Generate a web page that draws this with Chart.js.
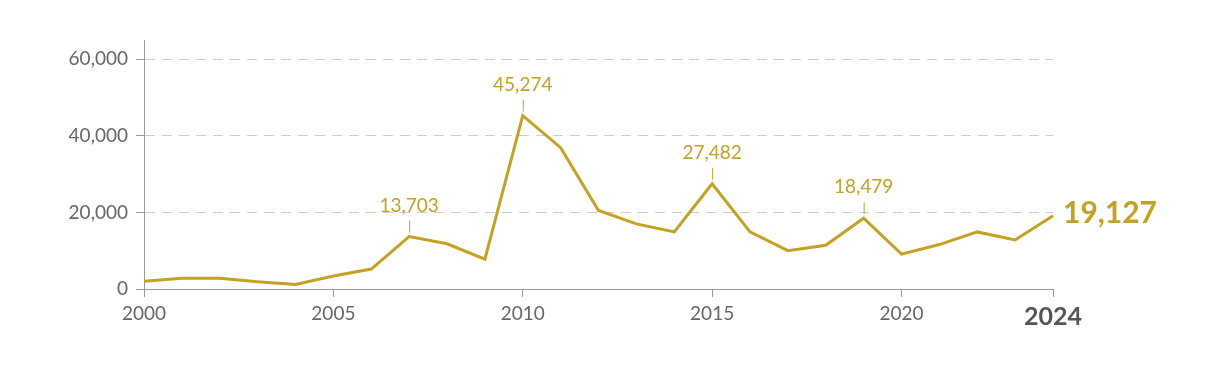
<!DOCTYPE html>
<html>
<head>
<meta charset="utf-8">
<script src="https://cdn.jsdelivr.net/npm/chart.js@4.4.1/dist/chart.umd.min.js"></script>
<style>
  html, body { margin: 0; padding: 0; background: #fff; }
  #wrap { width: 1215px; height: 373px; }
</style>
</head>
<body>
<div id="wrap"><canvas id="chart" width="1215" height="373"></canvas></div>
<script>
var years = ['2000','2001','2002','2003','2004','2005','2006','2007','2008','2009','2010','2011','2012',
             '2013','2014','2015','2016','2017','2018','2019','2020','2021','2022','2023','2024'];
var values = [2000, 2800, 2800, 1900, 1200, 3400, 5200, 13703, 11800, 7800, 45274, 36900, 20500,
              17000, 14900, 27482, 14900, 10000, 11400, 18479, 9100, 11600, 14900, 12800, 19127];
var yTicks = [0, 20000, 40000, 60000];
var calloutYears = ['2007', '2010', '2015', '2019'];

var gold = '#c3a124';
var fmt = function (v) { return v.toLocaleString('en-US'); };
var shownTick = function (i) { return i % 5 === 0 || i === years.length - 1; };

// callouts + end label
var labelsPlugin = {
    id: 'labels',
    afterDatasetsDraw: function (chart) {
        var ctx = chart.ctx;
        var xs = chart.scales.x, ys = chart.scales.y;
        ctx.save();
        calloutYears.forEach(function (yr) {
            var i = years.indexOf(yr);
            var px = xs.getPixelForValue(i);
            var py = ys.getPixelForValue(values[i]);
            ctx.strokeStyle = gold;
            ctx.lineWidth = 1;
            ctx.beginPath();
            ctx.moveTo(px + 0.5, py - 4);
            ctx.lineTo(px + 0.5, py - 16);
            ctx.stroke();
            ctx.fillStyle = gold;
            ctx.font = '19px Lato';
            ctx.textAlign = 'center';
            ctx.textBaseline = 'alphabetic';
            ctx.fillText(fmt(values[i]), px, py - 25);
        });
        var last = values.length - 1;
        ctx.fillStyle = gold;
        ctx.font = 'bold 30px Lato';
        ctx.textAlign = 'left';
        ctx.textBaseline = 'middle';
        ctx.fillText(fmt(values[last]), xs.getPixelForValue(last) + 10, ys.getPixelForValue(values[last]) - 2);
        ctx.restore();
    }
};

new Chart(document.getElementById('chart').getContext('2d'), {
    type: 'line',
    data: {
        labels: years,
        datasets: [{
            data: values,
            borderColor: gold,
            borderWidth: 3,
            pointRadius: 0,
            tension: 0,
            fill: false
        }]
    },
    options: {
        responsive: false,
        animation: false,
        layout: { padding: { left: 0, right: 162, top: 40, bottom: 44 } },
        scales: {
            x: {
                offset: false,
                afterFit: function (s) { s.height = 40; },
                grid: {
                    drawOnChartArea: false,
                    tickLength: 8,
                    tickColor: function (c) { return shownTick(c.index) ? '#999' : 'rgba(0,0,0,0)'; }
                },
                border: { color: '#999', width: 1 },
                ticks: {
                    autoSkip: false,
                    maxRotation: 0,
                    padding: 5,
                    callback: function (val, index) { return shownTick(index) ? years[index] : ''; },
                    color: function (c) { return c.index === years.length - 1 ? '#555' : '#666'; },
                    font: function (c) {
                        return c.index === years.length - 1
                            ? { family: 'Lato', size: 25, weight: 'bold' }
                            : { family: 'Lato', size: 19 };
                    }
                }
            },
            y: {
                min: 0,
                max: 65000,
                afterFit: function (s) { s.width = 144; },
                afterBuildTicks: function (s) {
                    s.ticks = yTicks.map(function (v) { return { value: v }; });
                },
                grid: {
                    color: function (c) { return c.tick && c.tick.value === 0 ? 'rgba(0,0,0,0)' : '#cccccc'; },
                    lineWidth: 1,
                    tickLength: 8,
                    tickColor: '#999',
                    tickBorderDash: []
                },
                border: { color: '#999', width: 1, dash: [10, 7] },
                ticks: {
                    padding: 8,
                    color: '#666',
                    font: { family: 'Lato', size: 19 },
                    callback: function (v) { return fmt(v); }
                }
            }
        },
        plugins: {
            legend: { display: false },
            tooltip: { enabled: false }
        }
    },
    plugins: [labelsPlugin]
});
</script>
</body>
</html>
